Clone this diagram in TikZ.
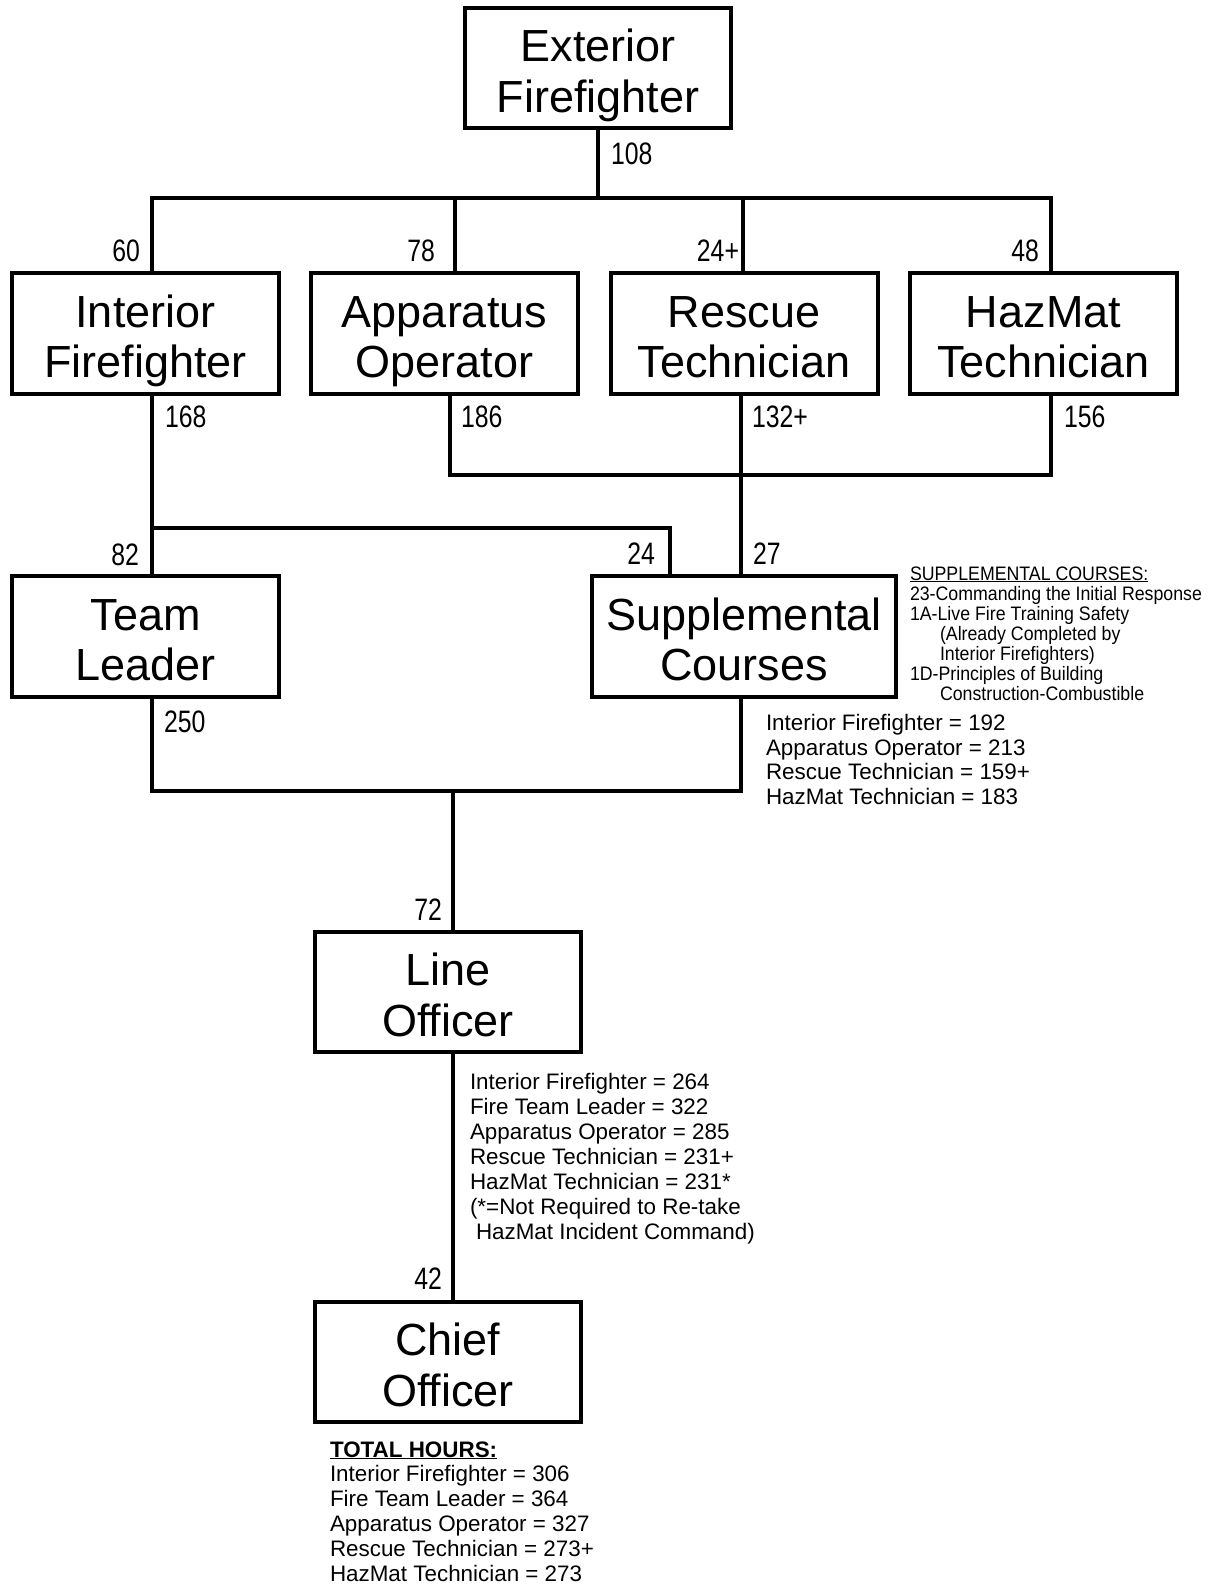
\documentclass[tikz,border=0pt]{standalone}
\usepackage{fontspec}
\setmainfont{Liberation Sans}
\newfontfamily\numfont[FakeStretch=0.8]{Liberation Sans}
\newfontfamily\notefont[FakeStretch=0.91]{Liberation Sans}
\newcommand\boxtopline[1]{\rule{0pt}{48pt}#1}
\newcommand\boxbotline[1]{#1\rule[-10pt]{0pt}{0pt}}
\begin{document}
\begin{tikzpicture}[x=1pt,y=-1pt,line width=4pt,
  box/.style={draw,line width=4pt,minimum width=267pt,minimum height=121pt,inner sep=0pt,align=center,font=\fontsize{45}{50.5}\selectfont},
  num/.style={inner sep=0pt,font=\numfont\fontsize{31}{31}\selectfont},
  txt/.style={inner sep=0pt,anchor=base west,font=\fontsize{22.4}{25}\selectfont},
  note/.style={inner sep=0pt,anchor=base west,font=\notefont\fontsize{19.5}{20}\selectfont}]
\fill[white] (0,0) rectangle (1217,1585);
\useasboundingbox (0,0) rectangle (1217,1585);

% boxes
\node[box,minimum width=266pt,minimum height=120pt] (ext) at (598,68) {\boxtopline{Exterior}\\\boxbotline{Firefighter}};
\node[box] (int) at (145.5,333.5) {\boxtopline{Interior}\\\boxbotline{Firefighter}};
\node[box] (app) at (444.5,333.5) {\boxtopline{Apparatus}\\\boxbotline{Operator}};
\node[box] (res) at (744,333.5) {\boxtopline{Rescue}\\\boxbotline{Technician}};
\node[box] (haz) at (1043.5,333.5) {\boxtopline{HazMat}\\\boxbotline{Technician}};
\node[box] (tl) at (145.5,636.5) {\boxtopline{Team}\\\boxbotline{Leader}};
\node[box,minimum width=304pt] (sup) at (744,636.5) {\boxtopline{Supplemental}\\\boxbotline{Courses}};
\node[box,minimum width=266pt,minimum height=120pt] (lo) at (448,992) {\boxtopline{Line}\\\boxbotline{Officer}};
\node[box,minimum width=266pt,minimum height=120pt] (co) at (448,1362) {\boxtopline{Chief}\\\boxbotline{Officer}};

% junction coordinates
\coordinate (b1) at (152,198);
\coordinate (b2) at (455,198);
\coordinate (b3) at (743,198);
\coordinate (b4) at (1051,198);
\coordinate (c2) at (450,475);
\coordinate (c3) at (741,475);
\coordinate (c4) at (1051,475);
\coordinate (d1) at (152,528);
\coordinate (d2) at (670,528);
\coordinate (e1) at (152,791);
\coordinate (e0) at (453,791);
\coordinate (e2) at (741,791);

% connectors
\draw (ext.south) -- (ext.south |- b1);
\draw (b1 |- int.north) -- (b1) -- (b4) -- (b4 |- haz.north);
\draw (b2) -- (b2 |- app.north);
\draw (b3) -- (b3 |- res.north);
\draw (app.south -| c2) -- (c2) -- (c4) -- (haz.south -| c4);
\draw (res.south -| c3) -- (sup.north -| c3);
\draw (int.south -| d1) -- (tl.north -| d1);
\draw (d1) -- (d2) -- (sup.north -| d2);
\draw (tl.south -| e1) -- (e1) -- (e2) -- (sup.south -| e2);
\draw (e0) -- (lo.north -| e0);
\draw (lo.south -| e0) -- (co.north -| e0);

% hour labels
\node[num,anchor=west] (n108) at (609,154) {108};
\node[num,anchor=east] (n60) at (142,251) {60};
\node[num,anchor=east] (n78) at (437,251) {78};
\node[num,anchor=east] (n24p) at (741,251) {24+};
\node[num,anchor=east] (n48) at (1041,251) {48};
\node[num,anchor=west] (n168) at (163,417) {168};
\node[num,anchor=west] (n186) at (459,417) {186};
\node[num,anchor=west] (n132) at (750,417) {132+};
\node[num,anchor=west] (n156) at (1062,417) {156};
\node[num,anchor=east] (n82) at (141,555) {82};
\node[num,anchor=east] (n24) at (657,554) {24};
\node[num,anchor=west] (n27) at (751,554) {27};
\node[num,anchor=west] (n250) at (162,722) {250};
\node[num,anchor=east] (n72) at (444,910) {72};
\node[num,anchor=east] (n42) at (444,1279) {42};

% supplemental notes
\node[note] (s0) at (908,580) {\underline{SUPPLEMENTAL COURSES:}};
\node[note] (s1) at (908,600) {23-Commanding the Initial Response};
\node[note] (s2) at (908,620) {1A-Live Fire Training Safety};
\node[note] (s3) at (938,640) {(Already Completed by};
\node[note] (s4) at (938,660) {Interior Firefighters)};
\node[note] (s5) at (908,680) {1D-Principles of Building};
\node[note] (s6) at (938,700) {Construction-Combustible};

% supplemental totals
\node[txt] (u1) at (764,730) {Interior Firefighter = 192};
\node[txt] (u2) at (764,755) {Apparatus Operator = 213};
\node[txt] (u3) at (764,779.5) {Rescue Technician = 159+};
\node[txt] (u4) at (764,804.5) {HazMat Technician = 183};

% line officer totals
\node[txt] (l1) at (468,1089) {Interior Firefighter = 264};
\node[txt] (l2) at (468,1114.1) {Fire Team Leader = 322};
\node[txt] (l3) at (468,1139.2) {Apparatus Operator = 285};
\node[txt] (l4) at (468,1164.3) {Rescue Technician = 231+};
\node[txt] (l5) at (468,1189.4) {HazMat Technician = 231*};
\node[txt] (l6) at (468,1214.5) {(*=Not Required to Re-take};
\node[txt] (l7) at (468,1239.6) {\hspace{6pt}HazMat Incident Command)};

% total hours
\node[txt] (t0) at (328,1457) {\underline{\bfseries TOTAL HOURS:}};
\node[txt] (t1) at (328,1481.8) {Interior Firefighter = 306};
\node[txt] (t2) at (328,1506.6) {Fire Team Leader = 364};
\node[txt] (t3) at (328,1531.4) {Apparatus Operator = 327};
\node[txt] (t4) at (328,1556.2) {Rescue Technician = 273+};
\node[txt] (t5) at (328,1581) {HazMat Technician = 273};
\end{tikzpicture}
\end{document}
